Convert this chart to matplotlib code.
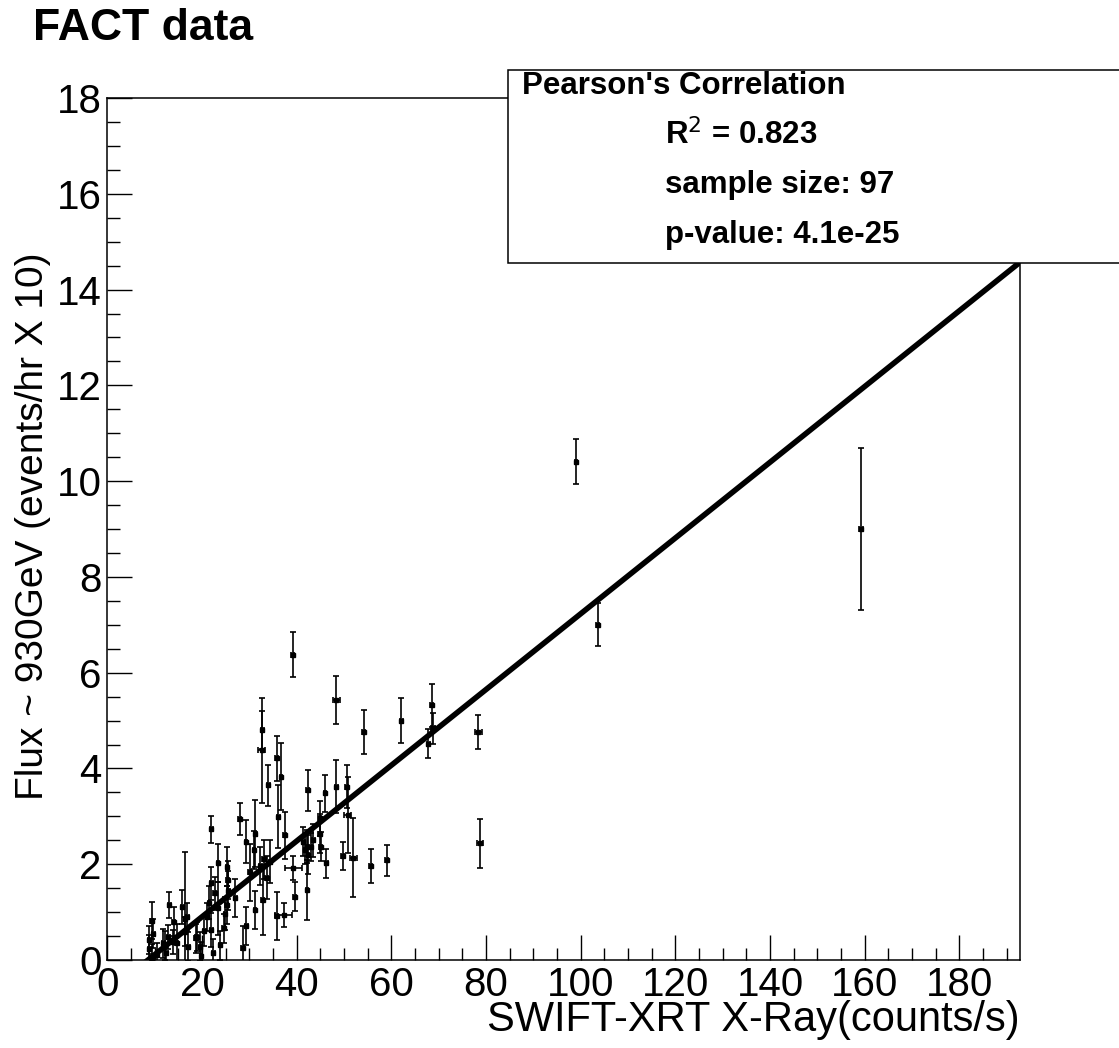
import matplotlib
matplotlib.use("Agg")
import matplotlib.pyplot as plt
from matplotlib.patches import Rectangle
from matplotlib.ticker import MultipleLocator

plt.rcParams['font.family'] = ['Liberation Sans', 'DejaVu Sans']

# swift-xrt rate vs fact flux
xray = [159.2, 99.0, 103.6, 78.4, 78.7, 68.5, 68.8, 67.8, 62.1, 54.2,
        48.4, 39.2, 59.0, 55.6, 52.0, 50.8, 50.6, 48.4, 46.0, 42.3,
        49.7, 46.3, 44.9, 44.9, 45.1, 42.2, 41.4, 42.2, 43.0, 42.4,
        39.3, 39.6, 37.3, 35.8, 32.7, 32.6, 35.8, 34.0, 36.7, 36.1,
        28.0, 31.3, 29.3, 22.0, 30.1, 32.3, 33.7, 32.8, 29.4, 31.2,
        25.3, 25.4, 25.2, 23.4, 22.7, 22.0, 23.4, 22.4, 19.6, 21.1,
        24.6, 18.9, 16.4, 15.8, 16.9, 13.1, 12.9, 14.7, 12.2, 9.4,
        9.7, 8.9, 9.4, 19.8, 16.4, 17.1, 13.8, 12.5, 11.8, 18.7,
        22.0, 23.8, 24.9, 8.9, 25.6, 28.6, 27.0, 20.5, 21.5, 33.0,
        34.4, 31.0, 37.5, 43.5, 41.8, 10.5, 14.0]
flux = [9.0, 10.4, 7.0, 4.76, 2.44, 5.32, 4.84, 4.52, 5.00, 4.77,
        5.43, 6.37, 2.08, 1.96, 2.14, 3.03, 3.62, 3.62, 3.48, 3.54,
        2.17, 2.02, 2.96, 2.64, 2.37, 1.46, 2.47, 2.37, 2.36, 2.20,
        1.93, 1.32, 0.94, 0.92, 4.80, 4.38, 4.21, 3.65, 3.83, 2.99,
        2.95, 2.64, 2.47, 2.73, 1.83, 1.96, 1.72, 1.25, 0.71, 1.04,
        1.95, 1.67, 1.15, 2.02, 1.39, 1.60, 1.08, 0.14, 0.28, 0.90,
        0.66, 0.49, 0.85, 1.11, 0.90, 1.15, 0.49, 0.35, 0.31, 0.82,
        0.55, 0.22, 0.04, 0.08, 0.59, 0.28, 0.38, 0.14, 0.35, 0.45,
        0.63, 0.31, 0.97, 0.42, 1.45, 0.25, 1.30, 0.60, 1.20, 2.10,
        2.05, 2.30, 2.60, 2.50, 2.30, 0.10, 0.80]
flux_err = [1.7, 0.47, 0.45, 0.36, 0.51, 0.45, 0.32, 0.30, 0.47, 0.46,
            0.50, 0.47, 0.33, 0.35, 0.82, 0.80, 0.45, 0.55, 0.38, 0.42,
            0.30, 0.30, 0.37, 0.40, 0.30, 0.62, 0.30, 0.35, 0.30, 0.40,
            0.25, 0.30, 0.25, 0.50, 0.40, 1.10, 0.47, 0.43, 0.70, 0.66,
            0.33, 0.70, 0.45, 0.28, 0.60, 0.40, 0.45, 0.72, 0.40, 0.40,
            0.40, 0.40, 0.40, 0.40, 0.35, 0.35, 0.55, 0.30, 0.30, 0.30,
            0.30, 0.30, 1.40, 0.35, 0.30, 0.28, 0.25, 0.40, 0.30, 0.39,
            0.30, 0.30, 0.30, 0.30, 0.30, 0.30, 0.25, 0.20, 0.30, 0.30,
            0.35, 0.30, 0.35, 0.30, 0.40, 0.45, 0.40, 0.30, 0.35, 0.40,
            0.45, 0.40, 0.50, 0.35, 0.30, 0.25, 0.30]
xray_err = [0.5, 0.3, 0.3, 0.7, 0.7, 0.3, 0.5, 0.3, 0.3, 0.3,
            0.7, 0.3, 0.3, 0.3, 0.7, 0.7, 0.3, 0.3, 0.3, 0.3,
            0.3, 0.3, 0.3, 0.3, 0.3, 0.3, 0.3, 0.3, 0.3, 0.3,
            1.8, 0.3, 1.8, 0.3, 0.3, 0.7, 0.3, 0.3, 0.3, 0.3,
            0.3, 0.3, 0.3, 0.3, 0.3, 0.3, 0.3, 0.3, 0.3, 0.3,
            0.3, 0.3, 0.3, 0.3, 0.3, 0.3, 0.3, 0.3, 0.3, 0.3,
            0.3, 0.3, 0.3, 0.3, 0.3, 0.3, 0.3, 0.3, 0.3, 0.3,
            0.3, 0.3, 0.3, 0.3, 0.3, 0.3, 0.3, 0.3, 0.3, 0.3,
            0.3, 0.3, 0.3, 0.3, 0.3, 0.3, 0.3, 0.3, 0.3, 0.3,
            0.3, 0.3, 0.3, 0.3, 0.3, 0.3, 0.3]

# linear fit as drawn
fit_slope = 0.0791
fit_intercept = -0.68
x_max = 192.8

stats_lines = ["R$^{2}$ = 0.823", "sample size: 97", "p-value: 4.1e-25"]

W, H = 1119, 1048
fig = plt.figure(figsize=(W / 100, H / 100), dpi=100)
ax = fig.add_axes([107.3 / W, 1 - 960 / H, (1020 - 107.3) / W, (960 - 98) / H])

ax.errorbar(xray, flux, xerr=xray_err, yerr=flux_err, fmt='s', ms=3.3,
            color='black', ecolor='black', elinewidth=1.2, capsize=2.5,
            capthick=1.2, zorder=3)

fit_x = [min(xray) - 0.5, x_max]
fit_y = [fit_slope * v + fit_intercept for v in fit_x]
ax.plot(fit_x, fit_y, color='black', lw=4, zorder=4)

ax.set_xlim(0, x_max)
ax.set_ylim(0, 18)
ax.xaxis.set_major_locator(MultipleLocator(20))
ax.xaxis.set_minor_locator(MultipleLocator(5))
ax.yaxis.set_major_locator(MultipleLocator(2))
ax.yaxis.set_minor_locator(MultipleLocator(0.5))
ax.tick_params(which='both', direction='in', width=1, labelsize=29,
               top=False, right=False)
ax.tick_params(which='major', length=18, pad=4)
ax.tick_params(which='minor', length=9)
for s in ax.spines.values():
    s.set_linewidth(1.1)

fig.text(1020 / W, 1 - 1020 / H, "SWIFT-XRT X-Ray(counts/s)", fontsize=30,
         ha='right', va='center')
fig.text(33 / W, 1 - 526 / H, "Flux ~ 930GeV (events/hr X 10)", fontsize=28,
         rotation=90, ha='center', va='center')
fig.text(33 / W, 1 - 29 / H, "FACT data", fontsize=32, fontweight='bold',
         ha='left', va='center')

# stats box over the top right corner
box = Rectangle((508 / W, 1 - 263 / H), (1130 - 508) / W, (263 - 70) / H,
                transform=fig.transFigure, facecolor='white',
                edgecolor='black', lw=1.1, zorder=5)
fig.add_artist(box)
fig.text(522 / W, 1 - 86 / H, "Pearson's Correlation", fontsize=22.5,
         fontweight='bold', ha='left', va='center', zorder=6)
for i, line in enumerate(stats_lines):
    fig.text(665 / W, 1 - (135 + 50 * i) / H, line, fontsize=22.5,
             fontweight='bold', ha='left', va='center', zorder=6)

fig.savefig("out.png", dpi=100)
